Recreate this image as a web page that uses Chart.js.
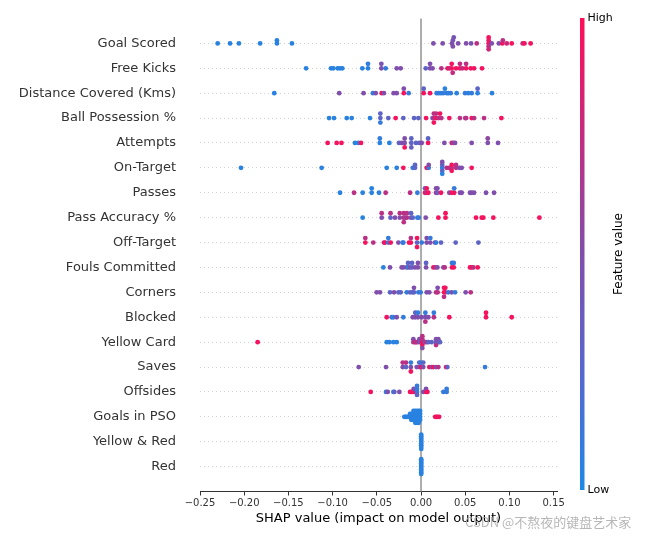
<!DOCTYPE html>
<html>
<head>
<meta charset="utf-8">
<script src="https://cdn.jsdelivr.net/npm/chart.js@4/dist/chart.umd.min.js"></script>
<style>
  html, body { margin: 0; padding: 0; background: #fff; }
  #wrap { width: 645px; height: 538px; position: relative; }
</style>
</head>
<body>
<div id="wrap"><canvas id="shap"></canvas></div>
<script>
// feature names, top to bottom
const features = ["Goal Scored", "Free Kicks", "Distance Covered (Kms)", "Ball Possession %",
  "Attempts", "On-Target", "Passes", "Pass Accuracy %", "Off-Target", "Fouls Committed",
  "Corners", "Blocked", "Yellow Card", "Saves", "Offsides", "Goals in PSO", "Yellow & Red", "Red"];

// [shap value, normalised feature value] per sample
const goalScored = [[-0.230,0.05],[-0.216,0.05],[-0.206,0.05],[-0.182,0.05],[-0.163,0.05],[-0.163,0.05],[-0.146,0.05],
  [0.014,0.5],[0.0245,0.5],[0.035,0.5],[0.036,0.45],[0.036,0.5],[0.037,0.45],[0.042,0.5],[0.051,0.5],[0.0566,0.45],[0.063,0.72],
  [0.0765,0.95],[0.0765,0.9],[0.0765,0.72],[0.0765,0.95],[0.0765,0.8],
  [0.080,0.5],[0.088,0.5],[0.092,0.95],[0.0925,0.72],[0.097,0.8],[0.1026,0.95],[0.115,0.75],[0.117,0.95],[0.124,0.95]];
const freeKicks = [[-0.130,0.05],[-0.1018,0.05],[-0.0992,0.05],[-0.0943,0.05],[-0.0916,0.05],[-0.089,0.05],[-0.0664,0.05],
  [-0.060,0.05],[-0.060,0.08],[-0.0449,0.5],[-0.0449,0.45],[-0.040,0.1],[-0.0275,0.5],[-0.023,0.5],
  [0.0053,0.3],[0.0102,0.5],[0.0102,0.5],[0.013,0.5],[0.023,0.72],[0.030,0.95],[0.032,0.75],[0.0347,0.95],[0.0347,0.95],
  [0.0358,0.75],[0.0396,0.95],[0.044,0.95],[0.044,0.75],[0.0468,0.75],[0.051,0.95],[0.051,0.72],[0.0562,0.95],[0.060,0.95],[0.069,0.95]];
const distanceCovered = [[-0.166,0.05],[-0.0925,0.5],[-0.065,0.5],[-0.0545,0.1],[-0.0513,0.5],[-0.0445,0.95],[-0.042,0.5],
  [-0.031,0.5],[-0.0275,0.5],[-0.0195,0.95],[-0.0195,0.5],[-0.014,0.1],
  [0.003,0.95],[0.003,0.3],[0.0102,0.95],[0.0177,0.1],[0.020,0.1],[0.0225,0.05],[0.025,0.1],[0.027,0.05],[0.029,0.1],
  [0.031,0.05],[0.0336,0.1],[0.0403,0.05],[0.0498,0.1],[0.0535,0.05],[0.0573,0.1],[0.064,0.05],[0.064,0.3],[0.0803,0.05]];
const ballPossession = [[-0.104,0.05],[-0.0984,0.05],[-0.084,0.05],[-0.0784,0.05],[-0.0577,0.05],[-0.046,0.3],[-0.046,0.3],
  [-0.046,0.1],[-0.037,0.3],[-0.0287,0.95],[-0.020,0.3],[-0.0079,0.3],[-0.003,0.3],[0.0057,0.95],
  [0.013,0.3],[0.0145,0.72],[0.0145,0.75],[0.0145,0.95],[0.017,0.95],[0.017,0.72],[0.020,0.72],[0.0215,0.95],[0.023,0.72],
  [0.032,0.95],[0.044,0.72],[0.050,0.72],[0.051,0.7],[0.0573,0.95],[0.060,0.72],[0.0713,0.72],[0.0909,0.95]];
const attempts = [[-0.1056,0.95],[-0.0954,0.95],[-0.090,0.95],[-0.0747,0.05],[-0.0709,0.05],[-0.0679,0.95],[-0.0466,0.05],
  [-0.0466,0.1],[-0.0358,0.05],[-0.0249,0.3],[-0.0219,0.5],[-0.0185,0.5],[-0.0185,0.5],[-0.0185,0.95],[-0.011,0.3],[-0.011,0.3],
  [-0.011,0.35],[-0.0057,0.3],[-0.0019,0.3],[0.0008,0.5],[0.008,0.95],[0.008,0.3],[0.0264,0.5],[0.0347,0.72],[0.0366,0.7],
  [0.0385,0.5],[0.0573,0.5],[0.0755,0.5],[0.0755,0.55],[0.0871,0.5]];
const onTarget = [[-0.2036,0.05],[-0.1124,0.05],[-0.0388,0.05],[-0.0275,0.05],[-0.020,0.95],[-0.0094,0.1],[-0.0068,0.3],
  [-0.0068,0.3],[0.0064,0.95],[0.0087,0.1],[0.0087,0.5],
  [0.024,0.05],[0.024,0.3],[0.024,0.3],[0.024,0.5],[0.024,0.05],
  [0.029,0.72],[0.032,0.72],[0.0347,0.72],[0.0347,0.95],[0.0347,0.95],[0.0396,0.72],[0.0396,0.72],[0.0434,0.5],[0.046,0.5],[0.0573,0.95]];
const passes = [[-0.0916,0.05],[-0.0758,0.72],[-0.066,0.05],[-0.0558,0.05],[-0.0558,0.05],[-0.0475,0.05],[-0.040,0.72],
  [-0.0124,0.72],[-0.0041,0.1],[0.0045,0.95],[0.0045,0.3],[0.0064,0.72],[0.0064,0.95],[0.0083,0.95],[0.017,0.72],[0.017,0.5],
  [0.0185,0.3],[0.0185,0.5],[0.0226,0.95],[0.032,0.5],[0.0347,0.95],[0.0375,0.95],[0.0375,0.1],[0.0441,0.5],[0.046,0.5],
  [0.0554,0.5],[0.0573,0.5],[0.060,0.5],[0.0735,0.5],[0.0826,0.5]];
const passAccuracy = [[-0.066,0.05],[-0.0445,0.5],[-0.0445,0.72],[-0.0345,0.3],[-0.0345,0.72],[-0.0294,0.5],[-0.024,0.5],
  [-0.024,0.72],[-0.0195,0.95],[-0.0195,0.72],[-0.0195,0.72],[-0.0181,0.5],[-0.016,0.72],[-0.016,0.72],[-0.0113,0.5],
  [-0.0113,0.3],[-0.0094,0.3],[-0.0041,0.1],[-0.0026,0.1],[0.0053,0.5],[0.0196,0.95],[0.0277,0.95],[0.0277,0.95],
  [0.0622,0.95],[0.0686,0.95],[0.0705,0.95],[0.0818,0.95],[0.1339,0.95]];
const offTarget = [[-0.063,0.95],[-0.063,0.72],[-0.054,0.72],[-0.0419,0.72],[-0.0407,0.95],[-0.037,0.1],[-0.037,0.1],
  [-0.0343,0.95],[-0.0256,0.5],[-0.0207,0.1],[-0.020,0.1],[-0.0136,0.95],[-0.0115,0.95],[-0.0115,0.72],
  [-0.0045,0.3],[-0.0045,0.95],[-0.0045,0.95],[0.0008,0.1],[0.0064,0.5],[0.0064,0.5],[0.0105,0.5],[0.0105,0.1],
  [0.0158,0.5],[0.017,0.1],[0.0226,0.3],[0.0392,0.3],[0.0649,0.3]];
const foulsCommitted = [[-0.0426,0.05],[-0.0351,0.5],[-0.0219,0.5],[-0.020,0.5],[-0.0162,0.5],[-0.0147,0.1],[-0.0147,0.3],
  [-0.0124,0.5],[-0.0102,0.3],[-0.0102,0.3],[-0.0068,0.5],[-0.0035,0.5],[-0.0035,0.5],[0.0057,0.5],[0.0057,0.3],
  [0.014,0.95],[0.0162,0.72],[0.0185,0.5],[0.0253,0.5],[0.0268,0.72],[0.035,0.95],[0.035,0.1],[0.037,0.95],[0.037,0.1],
  [0.0554,0.95],[0.0573,0.95],[0.0592,0.72],[0.0641,0.95]];
const corners = [[-0.0502,0.5],[-0.0464,0.5],[-0.0351,0.3],[-0.0305,0.5],[-0.0256,0.3],[-0.023,0.3],[-0.0162,0.1],
  [-0.0124,0.3],[-0.0098,0.3],[-0.008,0.3],[-0.008,0.5],[-0.003,0.1],[-0.0004,0.1],[0.0064,0.5],[0.0094,0.5],[0.017,0.72],
  [0.0188,0.72],[0.0188,0.5],[0.026,0.95],[0.026,0.95],[0.026,0.72],[0.0275,0.95],[0.0275,0.95],[0.0309,0.1],[0.0347,0.5],
  [0.0385,0.1],[0.0505,0.5],[0.0562,0.72]];
const blocked = [[-0.0388,0.95],[-0.0332,0.1],[-0.0313,0.1],[-0.0275,0.5],[-0.020,0.1],[-0.0094,0.5],[-0.0065,0.5],
  [-0.0065,0.3],[-0.0035,0.5],[-0.0035,0.1],[0.0008,0.5],[0.0049,0.5],[0.0049,0.1],[0.0049,0.72],[0.0083,0.5],
  [0.0145,0.72],[0.0145,0.1],[0.032,0.95],[0.0735,0.95],[0.0735,0.95],[0.1026,0.95]];
const yellowCard = [[-0.1848,0.95],[-0.0388,0.05],[-0.0358,0.05],[-0.0313,0.05],[-0.0275,0.05],
  [-0.0087,0.5],[-0.0087,0.5],[-0.0068,0.95],[-0.0057,0.72],[-0.0041,0.72],[-0.0019,0.5],[-0.0019,0.5],
  [0.0015,0.95],[0.0015,0.72],[0.0015,0.95],[0.0015,0.72],[0.0015,0.5],
  [0.0045,0.5],[0.0064,0.72],[0.0083,0.3],[0.012,0.3],[0.017,0.3],[0.017,0.5],[0.017,0.72],[0.0196,0.5],[0.0196,0.5],[0.0215,0.3]];
const saves = [[-0.0705,0.5],[-0.0396,0.5],[-0.0207,0.5],[-0.0207,0.72],[-0.017,0.3],[-0.017,0.72],[-0.0115,0.5],
  [-0.0115,0.1],[-0.0115,0.95],[-0.0049,0.5],[-0.002,0.5],[-0.002,0.3],[0.0,0.95],[0.0,0.1],[0.0025,0.5],[0.0025,0.3],
  [0.0094,0.95],[0.012,0.5],[0.014,0.95],[0.017,0.5],[0.0196,0.72],[0.0283,0.95],[0.0298,0.3],[0.0724,0.1]];
const offsides = [[-0.0569,0.95],[-0.0396,0.1],[-0.0377,0.5],[-0.0313,0.1],[-0.0302,0.3],[-0.0245,0.5],[-0.0124,0.95],
  [-0.0106,0.95],[-0.0083,0.95],[-0.0083,0.5],[-0.0045,0.1],[-0.0045,0.1],[-0.0045,0.3],[-0.0045,0.1],[0.0026,0.5],
  [0.0057,0.95],[0.0057,0.5],[0.0072,0.95],[0.0253,0.1],[0.029,0.1],[0.029,0.1]];
const goalsInPSO = [[-0.0189,0.05],[-0.0175,0.05],[-0.0162,0.05],[-0.015,0.05],[-0.0135,0.05],[-0.0124,0.05],[-0.0124,0.05],
  [-0.011,0.05],[-0.011,0.05],[-0.011,0.05],[-0.0085,0.05],[-0.0085,0.05],[-0.0085,0.05],[-0.0085,0.05],
  [-0.0065,0.05],[-0.0065,0.05],[-0.0065,0.05],[-0.0065,0.05],[-0.0065,0.05],
  [-0.0045,0.05],[-0.0045,0.05],[-0.0045,0.05],[-0.0045,0.05],[-0.0045,0.05],
  [-0.0025,0.05],[-0.0025,0.05],[-0.0025,0.05],[-0.0025,0.05],[-0.0025,0.05],
  [-0.001,0.05],[-0.001,0.05],[-0.001,0.05],[-0.001,0.05],
  [0.016,0.95],[0.0175,0.95],[0.019,0.95],[0.0205,0.95]];
const yellowAndRed = [[0.0002,0.05],[0.0002,0.05],[0.0002,0.05],[0.0002,0.05],[0.0002,0.05],[0.0002,0.05],[0.0002,0.05],
  [0.0002,0.05],[0.0002,0.05]];
const red = [[0.0002,0.05],[0.0002,0.05],[0.0002,0.05],[0.0002,0.05],[0.0002,0.05],[0.0002,0.05],[0.0002,0.05],
  [0.0002,0.05],[0.0002,0.05],[0.0002,0.05],[0.0002,0.05]];

const rows = [goalScored, freeKicks, distanceCovered, ballPossession, attempts, onTarget, passes, passAccuracy,
  offTarget, foulsCommitted, corners, blocked, yellowCard, saves, offsides, goalsInPSO, yellowAndRed, red];

const xTicks = [-0.25, -0.20, -0.15, -0.10, -0.05, 0.00, 0.05, 0.10, 0.15];

const FONT = "'DejaVu Sans', sans-serif";

// blue (low) -> purple -> red (high), as in the reference colour bar
const cmapStops = [[30, 136, 229], [86, 104, 204], [128, 78, 172], [194, 44, 128], [255, 13, 87]];
function featureColor(t) {
  const s = Math.min(0.9999, Math.max(0, t)) * (cmapStops.length - 1);
  const i = Math.floor(s), f = s - i;
  const a = cmapStops[i], b = cmapStops[i + 1];
  const c = a.map((v, k) => Math.round(v + (b[k] - v) * f));
  return 'rgb(' + c.join(',') + ')';
}

// same stacking rule as shap's summary plot
function beeswarm(vals) {
  const nbins = 100;
  const lo = Math.min(...vals), hi = Math.max(...vals);
  const quant = vals.map(v => Math.round(nbins * (v - lo) / (hi - lo + 1e-8)));
  const order = vals.map((_, i) => i).sort((a, b) => quant[a] - quant[b] || a - b);
  const ys = new Array(vals.length).fill(0);
  let layer = 0, last = -1;
  for (const i of order) {
    if (quant[i] !== last) layer = 0;
    ys[i] = Math.ceil(layer / 2) * ((layer % 2) * 2 - 1);
    layer++;
    last = quant[i];
  }
  const top = Math.max(...ys.map(y => y + 1));
  return ys.map(y => y * 0.9 * 0.4 / top);
}

const points = [];
rows.forEach((row, i) => {
  const offs = beeswarm(row.map(p => p[0]));
  row.forEach((p, j) => points.push({ x: p[0], y: features.length - 1 - i + offs[j], c: p[1] }));
});

const zeroLine = {
  id: 'zeroLine',
  beforeDatasetsDraw(chart) {
    const { ctx, chartArea, scales } = chart;
    const x = scales.x.getPixelForValue(0);
    ctx.save();
    ctx.strokeStyle = '#999999';
    ctx.lineWidth = 1.6;
    ctx.beginPath();
    ctx.moveTo(x, chartArea.top);
    ctx.lineTo(x, chartArea.bottom);
    ctx.stroke();
    ctx.restore();
  }
};

const colorBar = {
  id: 'colorBar',
  afterDraw(chart) {
    const ctx = chart.ctx;
    const top = 18, bottom = 490, left = 580, w = 4.5;
    const grad = ctx.createLinearGradient(0, bottom, 0, top);
    for (let k = 0; k <= 20; k++) grad.addColorStop(k / 20, featureColor(k / 20));
    ctx.save();
    ctx.fillStyle = grad;
    ctx.fillRect(left, top, w, bottom - top);
    ctx.fillStyle = '#000';
    ctx.font = '11px ' + FONT;
    ctx.textAlign = 'left';
    ctx.textBaseline = 'middle';
    ctx.fillText('High', left + w + 3, top);
    ctx.fillText('Low', left + w + 3, bottom);
    ctx.font = '12px ' + FONT;
    ctx.translate(619, 254);
    ctx.rotate(-Math.PI / 2);
    ctx.textAlign = 'center';
    ctx.fillText('Feature value', 0, 0);
    ctx.restore();

    // watermark
    ctx.save();
    ctx.font = "13px 'Noto Sans CJK SC', sans-serif";
    ctx.fillStyle = 'rgba(165,165,165,0.8)';
    ctx.textAlign = 'left';
    ctx.textBaseline = 'alphabetic';
    ctx.fillText('CSDN @不熬夜的键盘艺术家', 465, 527);
    ctx.restore();
  }
};

new Chart(document.getElementById('shap'), {
  type: 'scatter',
  data: {
    datasets: [{
      data: points,
      backgroundColor: points.map(p => featureColor(p.c)),
      pointRadius: 2.4,
      pointHoverRadius: 2.4,
      borderWidth: 0
    }]
  },
  options: {
    responsive: true,
    maintainAspectRatio: false,
    animation: false,
    events: [],
    layout: { padding: { top: 18.5, right: 88, bottom: 0, left: 0 } },
    plugins: { legend: { display: false }, tooltip: { enabled: false } },
    scales: {
      x: {
        type: 'linear',
        min: -0.25,
        max: 0.1538,
        afterBuildTicks: s => { s.ticks = xTicks.map(v => ({ value: v })); },
        afterFit: s => { s.height = 46.5; s.paddingLeft = 0; s.paddingRight = 0; },
        ticks: {
          autoSkip: false,
          maxRotation: 0,
          padding: 2,
          color: '#333333',
          font: { family: FONT, size: 10 },
          callback: v => (Math.abs(v) < 1e-9 ? '0.00' : v.toFixed(2).replace('-', '\u2212'))
        },
        grid: { drawOnChartArea: false, drawTicks: true, tickLength: 4, color: '#333333' },
        border: { display: true, color: '#333333', width: 1 },
        title: {
          display: true,
          text: 'SHAP value (impact on model output)',
          color: '#000',
          font: { family: FONT, size: 13 },
          padding: { top: 0, bottom: 12 }
        }
      },
      y: {
        type: 'linear',
        min: -1,
        max: 18,
        afterBuildTicks: s => { s.ticks = features.map((f, i) => ({ value: features.length - 1 - i })); },
        afterFit: s => { s.width = 200; s.paddingTop = 0; s.paddingBottom = 0; },
        ticks: {
          autoSkip: false,
          padding: 24,
          color: '#333333',
          font: { family: FONT, size: 13 },
          callback: v => features[features.length - 1 - v]
        },
        grid: { color: '#d2d2d2', lineWidth: 1, drawTicks: false },
        border: { display: false, dash: [1, 3] }
      }
    }
  },
  plugins: [zeroLine, colorBar]
});
</script>
</body>
</html>
